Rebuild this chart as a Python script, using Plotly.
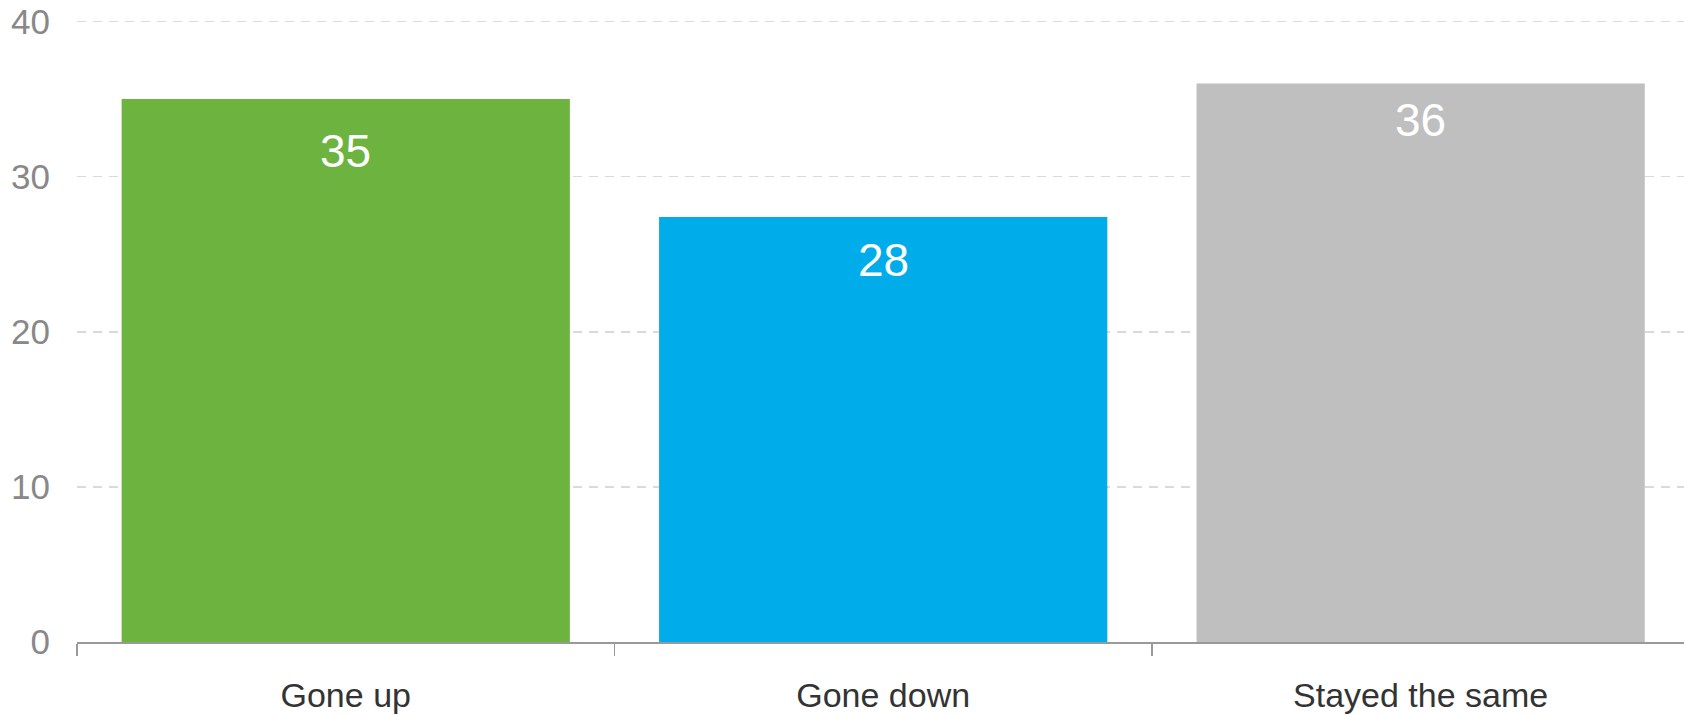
import plotly.graph_objects as go

categories = ["Gone up", "Gone down", "Stayed the same"]
values = [35, 27.4, 36]
value_labels = ["35", "28", "36"]
bar_colors = ["#6DB33F", "#00ADEA", "#BFBFBF"]
label_offsets = [-52, -43, -36]
y_ticks = [0, 10, 20, 30, 40]

FONT = "Liberation Sans, Arial, Helvetica, sans-serif"

fig = go.Figure()
fig.add_trace(go.Bar(
    x=categories,
    y=values,
    marker=dict(color=bar_colors, line=dict(width=0)),
    hoverinfo="skip",
))

for cat, val, lab, off in zip(categories, values, value_labels, label_offsets):
    fig.add_annotation(
        x=cat, y=val, text=lab, showarrow=False,
        yanchor="middle", yshift=off,
        font=dict(family=FONT, size=46, color="#ffffff"),
    )

fig.update_layout(
    width=1684, height=715,
    margin=dict(l=77, r=0, t=20, b=73, autoexpand=False),
    paper_bgcolor="white", plot_bgcolor="white",
    bargap=0.166,
    showlegend=False,
    font=dict(family=FONT),
)

fig.update_yaxes(
    range=[0, 40.1],
    automargin=False,
    tickvals=y_ticks,
    ticktext=[str(v) for v in y_ticks],
    tickfont=dict(family=FONT, size=35, color="#888888"),
    ticklabelstandoff=26,
    ticklabeloverflow="allow",
    showgrid=True,
    gridcolor="#DADADA",
    gridwidth=1.5,
    griddash="9px,7px",
    zeroline=False,
    showline=False,
    ticks="",
)

fig.update_xaxes(
    automargin=False,
    tickfont=dict(family=FONT, size=34, color="#333333"),
    showline=True,
    linecolor="#999999",
    linewidth=2,
    ticks="outside",
    tickson="boundaries",
    ticklen=12,
    tickcolor="#999999",
    tickwidth=1.5,
    ticklabelstandoff=22,
    showgrid=False,
    zeroline=False,
    range=[-0.5, 2.49],
)

fig.write_html(
    "out.html",
    config={"displayModeBar": False, "staticPlot": True},
    post_script="document.body.style.margin='0';document.body.style.overflow='hidden';",
)
